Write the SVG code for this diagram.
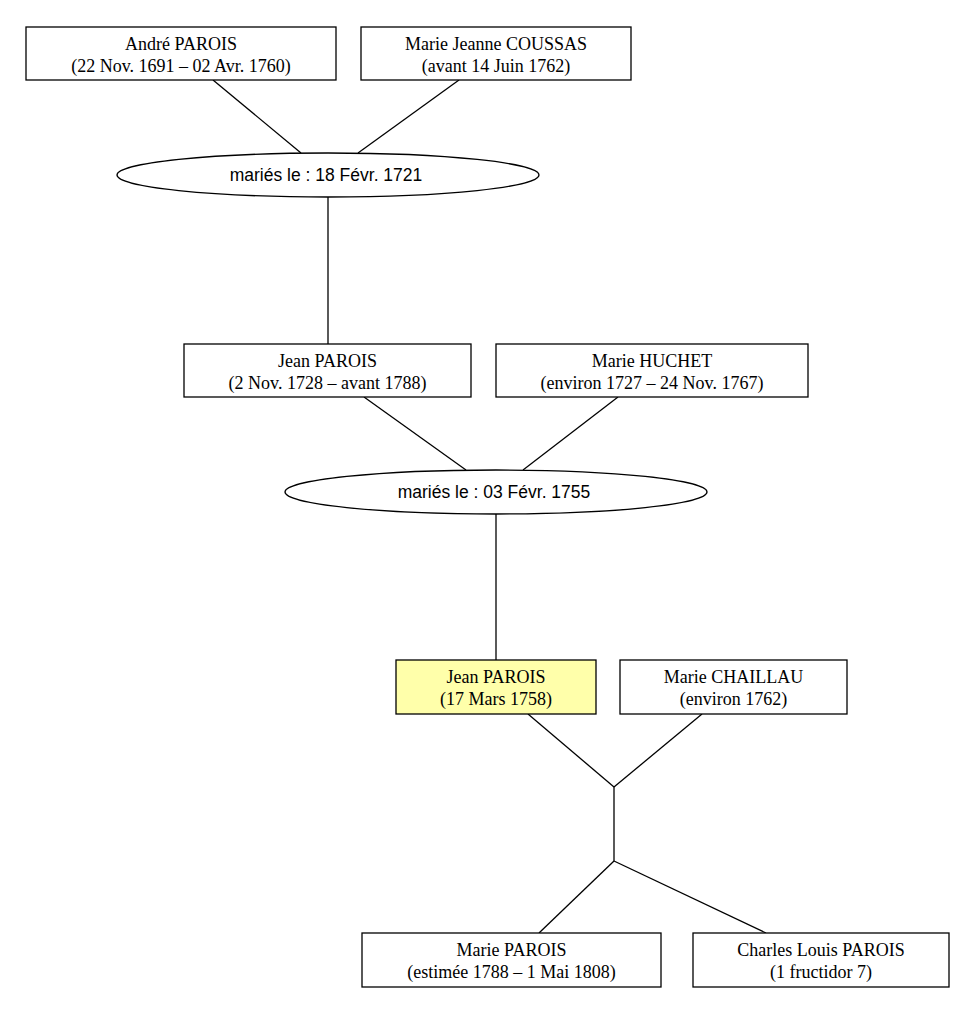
<svg xmlns="http://www.w3.org/2000/svg" width="976" height="1014" viewBox="0 0 976 1014">
<style>
.box{fill:#fff;stroke:#000;stroke-width:1.3}
.hl{fill:#ffffaa}
.ell{fill:#fff;stroke:#000;stroke-width:1.3}
.t{font-family:"Liberation Serif",serif;font-size:18px;text-anchor:middle;fill:#000}
.s{font-family:"Liberation Sans",sans-serif;font-size:17.5px;text-anchor:middle;fill:#000}
#edges line{stroke:#000;stroke-width:1.3}
</style>
<rect width="976" height="1014" fill="#fff"/>
<g id="edges">
<line x1="213" y1="80" x2="301" y2="153"/>
<line x1="459" y1="80" x2="358" y2="153"/>
<line x1="328" y1="197" x2="328" y2="344"/>
<line x1="364" y1="397" x2="466" y2="470"/>
<line x1="618" y1="397" x2="523" y2="470"/>
<line x1="496" y1="514" x2="496" y2="660"/>
<line x1="528" y1="714" x2="614" y2="787"/>
<line x1="702" y1="714" x2="614" y2="787"/>
<line x1="614" y1="787" x2="614" y2="861"/>
<line x1="614" y1="861" x2="539" y2="933"/>
<line x1="614" y1="861" x2="766" y2="933"/>
</g>
<g id="andre"><rect class="box" x="26" y="27" width="310" height="53"/><text class="t" x="181" y="50">André PAROIS</text><text class="t" x="181" y="72">(22 Nov. 1691 – 02 Avr. 1760)</text></g>
<g id="mariejeanne"><rect class="box" x="361" y="27" width="270" height="53"/><text class="t" x="496" y="50">Marie Jeanne COUSSAS</text><text class="t" x="496" y="72">(avant 14 Juin 1762)</text></g>
<g id="mariage1"><ellipse class="ell" cx="328" cy="175" rx="211" ry="22"/><text class="s" x="326" y="181">mariés le : 18 Févr. 1721</text></g>
<g id="jean1"><rect class="box" x="184" y="344" width="287" height="53"/><text class="t" x="327.5" y="367">Jean PAROIS</text><text class="t" x="327.5" y="389">(2 Nov. 1728 – avant 1788)</text></g>
<g id="mariehuchet"><rect class="box" x="496" y="344" width="312" height="53"/><text class="t" x="652" y="367">Marie HUCHET</text><text class="t" x="652" y="389">(environ 1727 – 24 Nov. 1767)</text></g>
<g id="mariage2"><ellipse class="ell" cx="496" cy="492" rx="211" ry="22"/><text class="s" x="494" y="498">mariés le : 03 Févr. 1755</text></g>
<g id="jean2"><rect class="box hl" x="396" y="660" width="200" height="54"/><text class="t" x="496" y="683">Jean PAROIS</text><text class="t" x="496" y="705">(17 Mars 1758)</text></g>
<g id="mariechaillau"><rect class="box" x="620" y="660" width="227" height="54"/><text class="t" x="733.5" y="683">Marie CHAILLAU</text><text class="t" x="733.5" y="705">(environ 1762)</text></g>
<g id="marieparois"><rect class="box" x="362" y="933" width="299" height="54"/><text class="t" x="511.5" y="956">Marie PAROIS</text><text class="t" x="511.5" y="978">(estimée 1788 – 1 Mai 1808)</text></g>
<g id="charles"><rect class="box" x="693" y="933" width="256" height="54"/><text class="t" x="821" y="956">Charles Louis PAROIS</text><text class="t" x="821" y="978">(1 fructidor 7)</text></g>
</svg>
